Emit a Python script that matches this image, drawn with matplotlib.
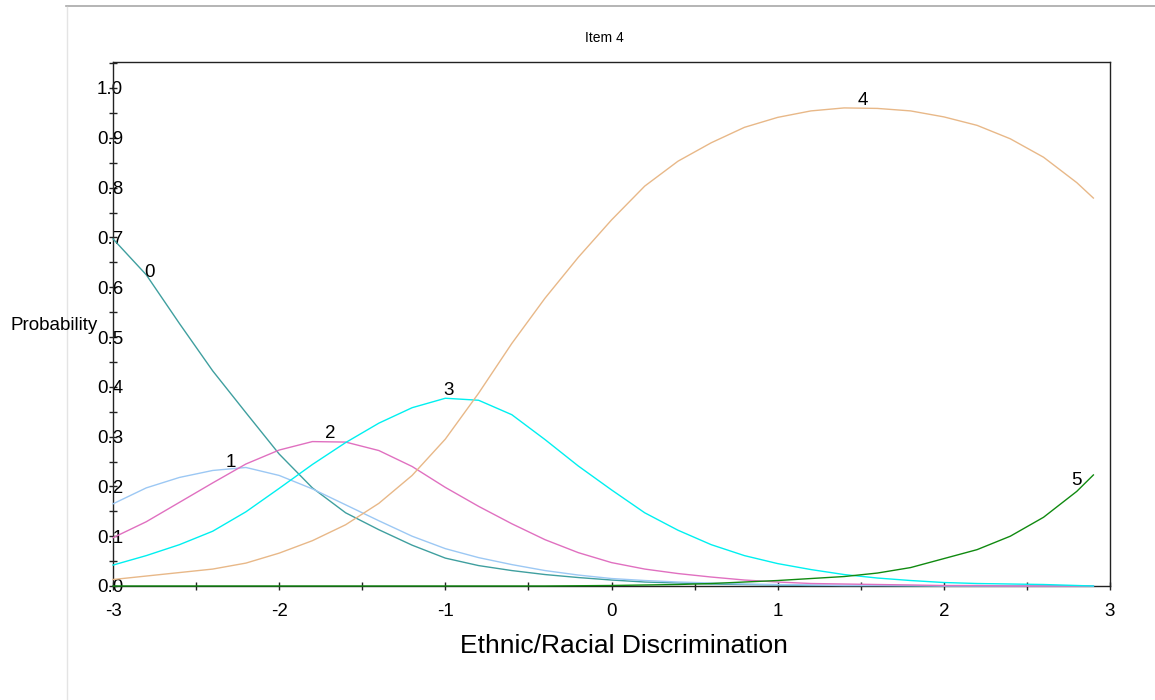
import numpy as np
import matplotlib
matplotlib.use("Agg")
import matplotlib.pyplot as plt
from matplotlib.lines import Line2D
from matplotlib.ticker import MultipleLocator

plt.rcParams['font.family'] = ['Liberation Sans', 'DejaVu Sans']
plt.rcParams['axes.unicode_minus'] = False

# theta grid
theta = [-3.0, -2.8, -2.6, -2.4, -2.2, -2.0, -1.8, -1.6, -1.4, -1.2, -1.0,
         -0.8, -0.6, -0.4, -0.2, 0.0, 0.2, 0.4, 0.6, 0.8, 1.0,
         1.2, 1.4, 1.6, 1.8, 2.0, 2.2, 2.4, 2.6, 2.8, 2.9]

# category response curves
p0 = [0.697, 0.625, 0.527, 0.432, 0.348, 0.265, 0.197, 0.147, 0.113, 0.082, 0.056,
      0.041, 0.031, 0.023, 0.017, 0.012, 0.008, 0.006, 0.004, 0.003, 0.002,
      0.001, 0.001, 0.001, 0.0, 0.0, 0.0, 0.0, 0.0, 0.0, 0.0]
p1 = [0.165, 0.197, 0.218, 0.232, 0.238, 0.222, 0.195, 0.163, 0.131, 0.100, 0.075,
      0.057, 0.043, 0.031, 0.022, 0.015, 0.011, 0.008, 0.006, 0.004, 0.003,
      0.002, 0.001, 0.001, 0.001, 0.0, 0.0, 0.0, 0.0, 0.0, 0.0]
p2 = [0.097, 0.129, 0.168, 0.207, 0.245, 0.273, 0.290, 0.289, 0.272, 0.240, 0.198,
      0.160, 0.125, 0.093, 0.067, 0.047, 0.034, 0.025, 0.018, 0.012, 0.008,
      0.005, 0.004, 0.003, 0.002, 0.001, 0.001, 0.0, 0.0, 0.0, 0.0]
p3 = [0.042, 0.061, 0.083, 0.110, 0.149, 0.196, 0.244, 0.288, 0.327, 0.358, 0.377,
      0.373, 0.344, 0.294, 0.241, 0.193, 0.147, 0.112, 0.083, 0.061, 0.045,
      0.033, 0.023, 0.016, 0.011, 0.007, 0.005, 0.004, 0.003, 0.001, 0.0]
p4 = [0.013, 0.020, 0.027, 0.034, 0.046, 0.066, 0.091, 0.123, 0.166, 0.222, 0.295,
      0.387, 0.487, 0.578, 0.660, 0.735, 0.803, 0.853, 0.890, 0.921, 0.941,
      0.954, 0.960, 0.959, 0.954, 0.942, 0.925, 0.898, 0.861, 0.810, 0.779]
p5 = [0.0, 0.0, 0.0, 0.0, 0.0, 0.0, 0.0, 0.0, 0.0, 0.0, 0.0,
      0.0, 0.0, 0.0, 0.0005, 0.001, 0.002, 0.003, 0.005, 0.008, 0.011,
      0.015, 0.019, 0.026, 0.037, 0.055, 0.073, 0.100, 0.138, 0.190, 0.223]

curves = [p0, p1, p2, p3, p4, p5]
colors = ['#3f9f9f', '#9cc8f4', '#e070c0', '#00f0f0', '#e8b888', '#108a10']
labels = ['0', '1', '2', '3', '4', '5']
# where each curve's number sits (theta, prob)
label_pos = [(-2.78, 0.630), (-2.29, 0.247), (-1.69, 0.307),
             (-0.98, 0.392), (1.51, 0.974), (2.80, 0.211)]

fig = plt.figure(figsize=(11.55, 7.0), dpi=100)
ax = fig.add_axes([113/1155, 1-586/700, (1110-113)/1155, (586-62)/700])

for p, c in zip(curves, colors):
   ax.plot(theta, p, color=c, lw=1.0, zorder=3, clip_on=False)

for (tx, ty), lab in zip(label_pos, labels):
   ax.text(tx, ty, lab, fontsize=13.5, ha='center', va='center', zorder=4)

ax.set_xlim(-3, 3)
ax.set_ylim(0, (586-62)/498)

ax.xaxis.set_major_locator(MultipleLocator(1))
ax.xaxis.set_minor_locator(MultipleLocator(0.5))
ax.set_yticks(np.arange(0, 1.01, 0.1))
ax.yaxis.set_minor_locator(MultipleLocator(0.05))
ax.set_yticklabels(['%.1f' % v for v in np.arange(0, 1.01, 0.1)])
ax.tick_params(axis='both', which='both', direction='inout', length=6, width=1,
               labelsize=13.5, color='#222222')
ax.tick_params(axis='x', pad=9)
ax.tick_params(axis='y', pad=-0.9)
for lbl in ax.get_yticklabels():
   lbl.set_horizontalalignment('center')

for s in ax.spines.values():
   s.set_linewidth(1.0)
   s.set_color('#222222')

fig.text(604/1155, 1-38/700, 'Item 4', fontsize=10, ha='center', va='center')
fig.text(10/1155, 1-325/700, 'Probability', fontsize=13.5, ha='left', va='center')
fig.text(624/1155, 1-646/700, 'Ethnic/Racial Discrimination', fontsize=19,
         ha='center', va='center')

# outer panel border lines
fig.add_artist(Line2D([66/1155, 1.0], [1-6/700, 1-6/700], color='#a8a8a8', lw=1.2,
                      transform=fig.transFigure))
fig.add_artist(Line2D([67/1155, 67/1155], [0, 1-7/700], color='#e4e4e4', lw=1.0,
                      transform=fig.transFigure))

fig.savefig('out.png', dpi=100)
